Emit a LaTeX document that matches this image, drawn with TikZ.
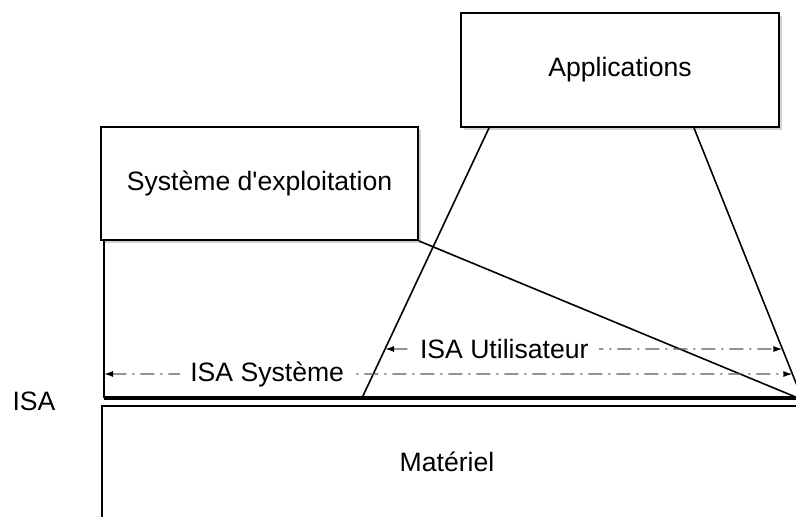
\documentclass[tikz,border=0pt]{standalone}
\usepackage{fontspec}
\setmainfont{Liberation Sans}
\usetikzlibrary{positioning,calc,shadows,arrows.meta}
\tikzset{
    layer/.style={
           rectangle,
           draw=black, line width=1pt,
           fill=white,
           inner sep=2pt,
           drop shadow={opacity=0.35,shadow xshift=1.5pt,shadow yshift=-1.5pt},
           },
}
\tikzset{
    txt/.style={
           font=\fontsize{13.3}{16}\selectfont,
           text centered,
           },
}
\tikzset{
    span/.style={
           draw=black!65, line width=0.7pt,
           dash pattern=on 7pt off 3pt on 1pt off 3pt,
           {Latex[black,length=4.5pt,width=3pt]}-{Latex[black,length=4.5pt,width=3pt]},
           },
}
\tikzset{
    tag/.style={
           txt,
           fill=white,
           inner xsep=5pt,
           inner ysep=1pt,
           },
}

\begin{document}
\begin{tikzpicture}[x=0.5pt,y=-0.5pt]
\clip (0,0) rectangle (796,517);
\fill[white] (0,0) rectangle (796,517);
% layers
\node[layer,txt,minimum width=159pt,minimum height=57pt](apps) at (620,70){Applications};
\node[layer,txt,minimum width=158.5pt,minimum height=56.5pt](os) at (259.5,183.5){Système d\textquotesingle exploitation};
\node[layer,anchor=north west,minimum width=400pt,minimum height=80pt](hw) at (101,405){};
\node[txt](hwtext) at (447,462){Matériel};
\node[txt](isa) at (34,401){ISA};
% ends of the interfaces
\coordinate (isaL) at (104,398);
\coordinate (isaR) at (798,398);
\coordinate (aL) at ($(apps.south west)+(29,0)$);
\coordinate (aR) at ($(apps.south west)+(234,0)$);
\coordinate (uL) at (362,398);
\coordinate (uR) at (802,398);
\coordinate (u1) at (0,349);
\coordinate (u2) at (10,349);
\coordinate (s1) at (0,374);
\coordinate (s2) at (10,374);
\draw[line width=0.8pt] (isaL |- os.south) -- (isaL);
\draw[line width=0.8pt] (os.south east) -- (isaR);
\draw[line width=0.8pt] (aL) -- (uL);
\draw[line width=0.8pt] (aR) -- (uR);
\draw[line width=2pt] (isaL) -- (isaR);
% ISA spans
\draw[span] (intersection of aL--uL and u1--u2) -- node[tag,pos=0.3](user){ISA Utilisateur} (intersection of aR--uR and u1--u2);
\draw[span] (isaL |- s1) -- node[tag,pos=0.237](sys){ISA Système} (intersection of aR--uR and s1--s2);
\end{tikzpicture}
\end{document}
